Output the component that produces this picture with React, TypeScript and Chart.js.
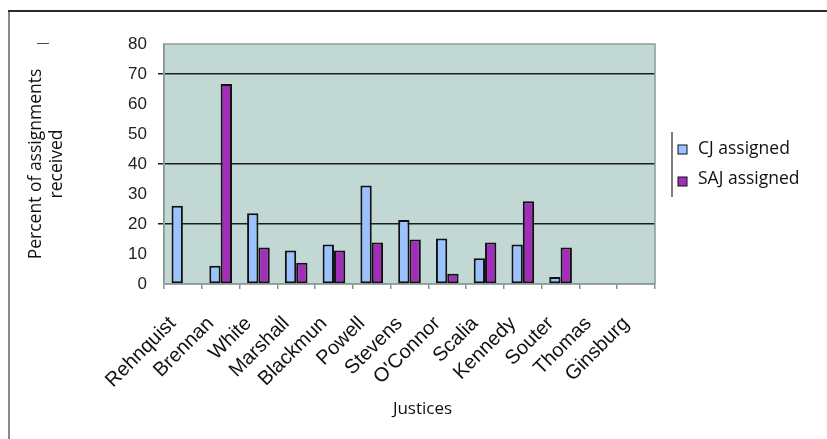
import React, { useEffect, useRef } from 'react';
import { Chart, registerables } from 'chart.js';

Chart.register(...registerables);

const justices = ['Rehnquist', 'Brennan', 'White', 'Marshall', 'Blackmun', 'Powell', 'Stevens', "O'Connor", 'Scalia', 'Kennedy', 'Souter', 'Thomas', 'Ginsburg'];
const cjAssigned = [26.1, 6.1, 23.6, 11.2, 13.2, 32.8, 21.3, 15.2, 8.6, 13.2, 2.3, null, null];
const sajAssigned = [null, 66.7, 12.2, 7.1, 11.2, 13.8, 14.8, 3.4, 13.8, 27.6, 12.2, null, null];
const seriesLabels = ['CJ assigned', 'SAJ assigned'];
const seriesColors = ['#99C2FF', '#A22DB9'];
const gridLineValues = [20, 40, 70];
const yAxisTitle = ['Percent of assignments', 'received'];
const xAxisTitle = 'Justices';
const cornerMark = '—';

const HUMANIST = '"Open Sans", "DejaVu Sans", sans-serif';
const ARIAL = '"Liberation Sans", Arial, sans-serif';

const decorPlugin = {
  id: 'decor',
  beforeDraw(chart: any) {
    const { ctx, chartArea } = chart;
    ctx.save();
    ctx.fillStyle = '#ffffff';
    ctx.fillRect(0, 0, chart.width, chart.height);
    ctx.strokeStyle = '#2a2a2a';
    ctx.lineWidth = 2;
    ctx.beginPath();
    ctx.moveTo(9, chart.height);
    ctx.lineTo(9, 11);
    ctx.lineTo(chart.width, 11);
    ctx.stroke();
    ctx.strokeStyle = '#8a8a8a';
    ctx.beginPath();
    ctx.moveTo(9, chart.height);
    ctx.lineTo(9, 12);
    ctx.stroke();
    ctx.fillStyle = '#C2D8D5';
    ctx.fillRect(chartArea.left, chartArea.top, chartArea.right - chartArea.left, chartArea.bottom - chartArea.top);
    ctx.restore();
  },
  beforeDatasetsDraw(chart: any) {
    const { ctx, chartArea } = chart;
    ctx.save();
    ctx.strokeStyle = '#8c9a9a';
    ctx.lineWidth = 1.5;
    ctx.strokeRect(chartArea.left, chartArea.top, chartArea.right - chartArea.left, chartArea.bottom - chartArea.top);
    ctx.restore();
  },
  afterDraw(chart: any) {
    const { ctx, chartArea } = chart;
    ctx.save();
    ctx.fillStyle = '#333';
    ctx.font = '12px ' + ARIAL;
    ctx.textAlign = 'center';
    ctx.textBaseline = 'middle';
    ctx.fillText(cornerMark, 43, 44);
    ctx.fillStyle = '#111';
    ctx.font = '17px ' + HUMANIST;
    ctx.fillText(xAxisTitle, (chartArea.left + chartArea.right) / 2 + 13, 409);
    const lx = chartArea.right + 17;
    ctx.strokeStyle = '#555';
    ctx.lineWidth = 1.5;
    ctx.beginPath();
    ctx.moveTo(lx, 132);
    ctx.lineTo(lx, 197);
    ctx.stroke();
    chart.data.datasets.forEach((ds: any, i: number) => {
      const y = 149 + i * 30;
      ctx.fillStyle = ds.backgroundColor;
      ctx.fillRect(lx + 6, y - 4 + i * 2, 9, 9);
      ctx.strokeStyle = '#111';
      ctx.lineWidth = 1;
      ctx.strokeRect(lx + 6, y - 4 + i * 2, 9, 9);
      ctx.fillStyle = '#111';
      ctx.textAlign = 'left';
      ctx.font = '17.5px ' + HUMANIST;
      ctx.fillText(ds.label, lx + 26, y);
    });
    ctx.restore();
  },
};

export default function App() {
  const ref = useRef<HTMLCanvasElement>(null);
  useEffect(() => {
    if (!ref.current) return;
    const chart = new Chart(ref.current, {
      type: 'bar',
      data: {
        labels: justices,
        datasets: [
          {
            label: seriesLabels[0],
            data: cjAssigned,
            backgroundColor: seriesColors[0],
            borderColor: '#111',
            borderWidth: 2,
            borderSkipped: false,
            categoryPercentage: 0.6,
            barPercentage: 1,
          },
          {
            label: seriesLabels[1],
            data: sajAssigned,
            backgroundColor: seriesColors[1],
            borderColor: '#111',
            borderWidth: 2,
            borderSkipped: false,
            categoryPercentage: 0.6,
            barPercentage: 1,
          },
        ],
      },
      options: {
        responsive: false,
        animation: false,
        layout: { padding: { top: 44, right: 172, left: 0, bottom: 0 } },
        plugins: { legend: { display: false }, tooltip: { enabled: false } },
        scales: {
          x: {
            grid: { offset: true, drawOnChartArea: false, drawTicks: true, tickLength: 5, color: '#8a9090', lineWidth: 1.5 },
            border: { display: true, color: '#8c9a9a', width: 1.5 },
            ticks: {
              minRotation: 45,
              maxRotation: 45,
              autoSkip: false,
              labelOffset: -10,
              padding: 23,
              color: '#111',
              font: { family: ARIAL, size: 20 },
            },
            afterFit: (s: any) => { s.height = 155; },
          },
          y: {
            min: 0,
            max: 80,
            ticks: { stepSize: 10, padding: 11, color: '#222', font: { family: ARIAL, size: 17 } },
            grid: {
              color: (c: any) => (c.tick && gridLineValues.includes(c.tick.value) ? '#1e1e1e' : 'rgba(0,0,0,0)'),
              lineWidth: 1.5,
              tickLength: 6,
              drawTicks: true,
            },
            border: { display: true, color: '#8c9a9a', width: 1.5 },
            title: {
              display: true,
              text: yAxisTitle,
              color: '#111',
              font: { family: HUMANIST, size: 17.5, lineHeight: 1.2 },
              padding: { top: 26, bottom: 0 },
            },
            afterFit: (s: any) => { s.width = 164; },
          },
        },
      },
      plugins: [decorPlugin],
    });
    return () => chart.destroy();
  }, []);
  return (
    <div style={{ position: 'absolute', left: 0, top: 0, width: 827, height: 439 }}>
      <canvas ref={ref} width={827} height={439} />
    </div>
  );
}
